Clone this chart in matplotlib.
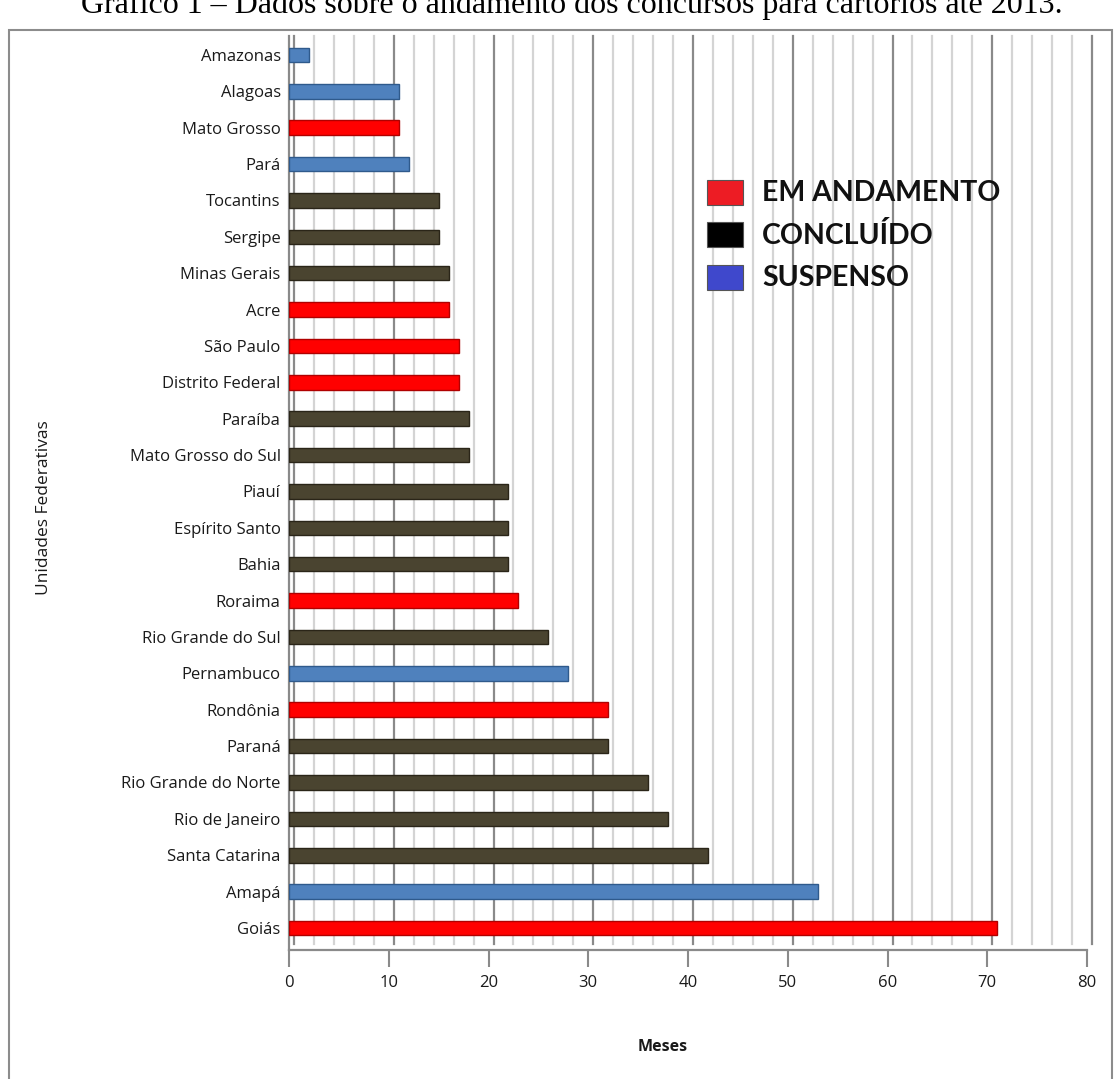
import matplotlib.pyplot as plt
import matplotlib.transforms as mtransforms
from matplotlib.patches import Rectangle
import numpy as np

# data, top of chart first
states = ["Amazonas", "Alagoas", "Mato Grosso", "Pará", "Tocantins", "Sergipe",
          "Minas Gerais", "Acre", "São Paulo", "Distrito Federal", "Paraíba",
          "Mato Grosso do Sul", "Piauí", "Espírito Santo", "Bahia", "Roraima",
          "Rio Grande do Sul", "Pernambuco", "Rondônia", "Paraná",
          "Rio Grande do Norte", "Rio de Janeiro", "Santa Catarina", "Amapá", "Goiás"]
months = [2, 11, 11, 12, 15, 15, 16, 16, 17, 17, 18, 18, 22, 22, 22, 23,
          26, 28, 32, 32, 36, 38, 42, 53, 71]
status = ["S", "S", "A", "S", "C", "C", "C", "A", "A", "A", "C", "C", "C", "C",
          "C", "A", "C", "S", "A", "C", "C", "C", "C", "S", "A"]

bar_colors = {"A": "#ff0000", "C": "#4a4430", "S": "#4f81bd"}
edge_colors = {"A": "#b00000", "C": "#2a2518", "S": "#2f5a8c"}
legend_labels = ["EM ANDAMENTO", "CONCLUÍDO", "SUSPENSO"]
legend_colors = ["#ed1c24", "#000000", "#3f48cc"]

W, H = 1115, 1079
fig = plt.figure(figsize=(W / 100, H / 100), dpi=100)

# outer frame of the chart object
fig.patches.append(Rectangle((9 / W, -0.01), 1103 / W, 1 - 30 / H + 0.01,
                             transform=fig.transFigure, fill=False,
                             edgecolor="#8c8c8c", lw=1.5))

# caption, cut at the top edge as in the source page
fig.text(572 / W, 1 - 13 / H,
         "Gráfico 1 – Dados sobre o andamento dos concursos para cartórios até 2013.",
         family="Liberation Serif", fontsize=23, ha="center", va="baseline")

ax = fig.add_axes([289 / W, 1 - 950 / H, 798 / W, 914 / H])
n = len(states)
y = np.arange(n)[::-1]
ytop = 24.52

# back-wall gridlines, shifted a bit to the right for the 3D look
shift = mtransforms.ScaledTranslation(5 / 100, 0, fig.dpi_scale_trans)
for gx in range(0, 81, 2):
    major = gx % 10 == 0
    ax.plot([gx, gx], [-0.45, ytop], color="#8a8a8a" if major else "#d4d4d4",
            lw=1.6, transform=ax.transData + shift, zorder=1, clip_on=False)

ax.barh(y, months, height=0.4,
        color=[bar_colors[s] for s in status],
        edgecolor=[edge_colors[s] for s in status], lw=1, zorder=3)

ax.set_xlim(0, 80)
ax.set_ylim(-0.605, ytop)
ax.set_yticks(y)
ax.set_yticklabels(states, family="Open Sans", fontsize=12, color="#1a1a1a")
ax.set_xticks(range(0, 81, 10))
ax.tick_params(axis="y", length=0, pad=6)
ax.tick_params(axis="x", length=12, width=1.5, color="#8a8a8a", pad=6,
               labelsize=12, labelcolor="#1a1a1a")
for lab in ax.get_xticklabels():
    lab.set_family("Open Sans")
for side in ["top", "right"]:
    ax.spines[side].set_visible(False)
ax.spines["bottom"].set_color("#8a8a8a")
ax.spines["bottom"].set_linewidth(1.6)
ax.spines["left"].set_color("#8a8a8a")
ax.spines["left"].set_linewidth(1.6)

fig.text(663 / W, 1 - 1047 / H, "Meses", family="Open Sans", fontsize=11.5,
         fontweight="bold", ha="center", va="center", color="#1a1a1a")
fig.text(44 / W, 1 - 508 / H, "Unidades Federativas", family="Open Sans",
         fontsize=12.5, rotation=90, ha="center", va="center", color="#1a1a1a")

# legend drawn as figure patches and text
for i, (lab, col) in enumerate(zip(legend_labels, legend_colors)):
    top = 180 + i * 42.5
    fig.patches.append(Rectangle((707 / W, 1 - (top + 25) / H), 36 / W, 25 / H,
                                 transform=fig.transFigure, facecolor=col,
                                 edgecolor="#555555", lw=0.8))
    fig.text(762 / W, 1 - (top + 13) / H, lab, family="Lato", fontweight="bold",
             fontsize=20.5, ha="left", va="center", color="#111111")

fig.savefig("out.png", dpi=100)
